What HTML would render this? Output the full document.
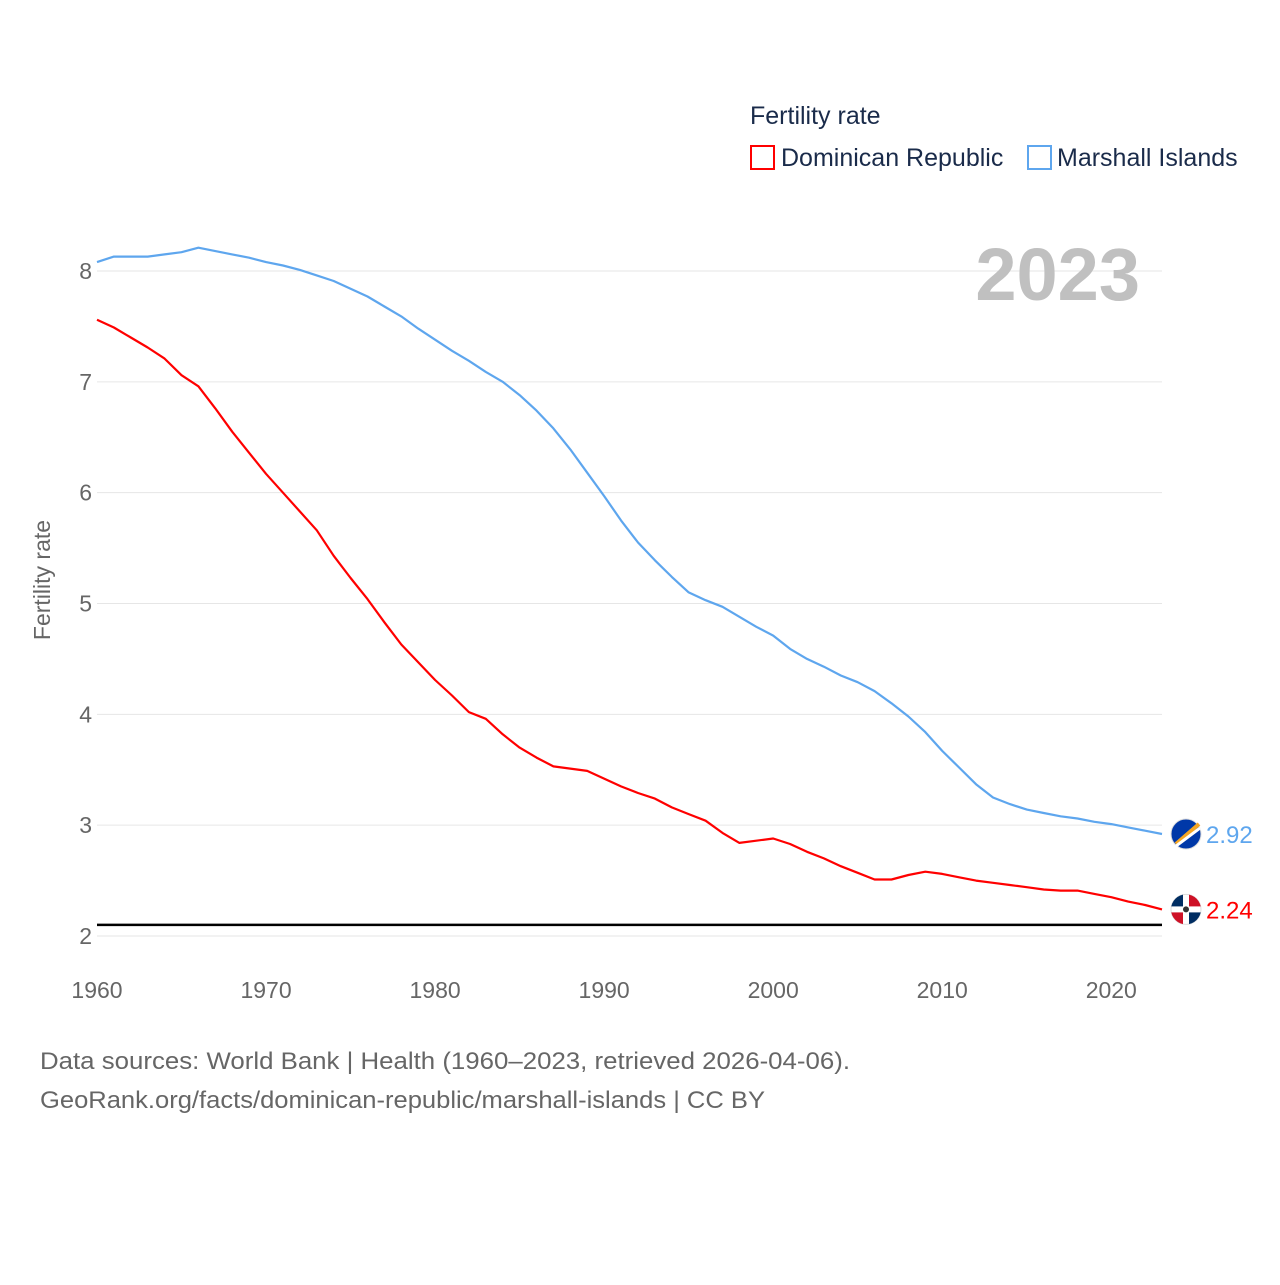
<!DOCTYPE html>
<html><head><meta charset="utf-8"><style>
body{margin:0;background:#fff;font-family:"Liberation Sans",sans-serif}
svg text{font-family:"Liberation Sans",sans-serif}
</style></head><body>
<svg id="chart" width="1280" height="1280" viewBox="0 0 1280 1280" xmlns="http://www.w3.org/2000/svg">
<rect width="1280" height="1280" fill="#fff"/>
<g id="grid"></g>
<g id="xt"></g>
<g id="lines"></g>
<text x="750" y="124" font-size="25" fill="#1a2b4a">Fertility rate</text>
<rect x="751" y="146" width="23" height="23" fill="none" stroke="#ff0000" stroke-width="2"/>
<text x="781" y="166" font-size="25" fill="#1a2b4a">Dominican Republic</text>
<rect x="1028" y="146" width="23" height="23" fill="none" stroke="#5ea6ee" stroke-width="2"/>
<text x="1057" y="166" font-size="25" fill="#1a2b4a">Marshall Islands</text>
<text x="1140" y="300" font-size="74" font-weight="bold" fill="#c0c0c0" text-anchor="end">2023</text>
<text transform="translate(50,580) rotate(-90)" font-size="23" fill="#666" text-anchor="middle">Fertility rate</text>
<text x="40" y="1069" font-size="24" fill="#666" textLength="810" lengthAdjust="spacingAndGlyphs">Data sources: World Bank | Health (1960–2023, retrieved 2026-04-06).</text>
<text x="40" y="1108" font-size="24" fill="#666" textLength="725" lengthAdjust="spacingAndGlyphs">GeoRank.org/facts/dominican-republic/marshall-islands | CC BY</text>
<defs><clipPath id="clipD"><circle id="clipDc" cx="1186" cy="0" r="15"/></clipPath></defs>
</svg>
<script>
const years=[];for(let y=1960;y<=2023;y++)years.push(y);
const dominican=[7.56,7.49,7.40,7.31,7.21,7.06,6.96,6.76,6.55,6.36,6.17,6.00,5.83,5.66,5.43,5.23,5.04,4.83,4.63,4.47,4.31,4.17,4.02,3.96,3.82,3.70,3.61,3.53,3.51,3.49,3.42,3.35,3.29,3.24,3.16,3.10,3.04,2.93,2.84,2.86,2.88,2.83,2.76,2.70,2.63,2.57,2.51,2.51,2.55,2.58,2.56,2.53,2.50,2.48,2.46,2.44,2.42,2.41,2.41,2.38,2.35,2.31,2.28,2.24];
const marshall=[8.08,8.13,8.13,8.13,8.15,8.17,8.21,8.18,8.15,8.12,8.08,8.05,8.01,7.96,7.91,7.84,7.77,7.68,7.59,7.48,7.38,7.28,7.19,7.09,7.00,6.88,6.74,6.58,6.39,6.18,5.97,5.75,5.55,5.39,5.24,5.10,5.03,4.97,4.88,4.79,4.71,4.59,4.50,4.43,4.35,4.29,4.21,4.10,3.98,3.84,3.67,3.52,3.37,3.25,3.19,3.14,3.11,3.08,3.06,3.03,3.01,2.98,2.95,2.92];
const yTicks=[2,3,4,5,6,7,8];
const xTicks=[1960,1970,1980,1990,2000,2010,2020];
const replacement=2.1;
const NS="http://www.w3.org/2000/svg";
const X=y=>97+(y-1960)*(1162-97)/63;
const Y=v=>936-(v-2)*(936-271)/6;
function mk(t,a,p){const e=document.createElementNS(NS,t);for(const k in a)e.setAttribute(k,a[k]);p.appendChild(e);return e;}
const grid=document.getElementById('grid'),xt=document.getElementById('xt'),lines=document.getElementById('lines');
yTicks.forEach(v=>{
 const l=mk('line',{x1:97,x2:1162,y1:Y(v),y2:Y(v),stroke:'#e6e6e6','stroke-width':1},grid);
 
 
 const t=mk('text',{x:92,y:Y(v)+8,'font-size':23,fill:'#666','text-anchor':'end'},grid);t.textContent=v;
 
 
});
xTicks.forEach(v=>{
 const t=mk('text',{x:X(v),y:998,'font-size':23,fill:'#666','text-anchor':'middle'},xt);t.textContent=v;
 
 
});
const rl=mk('line',{x1:97,x2:1162,y1:Y(replacement),y2:Y(replacement),stroke:'#000','stroke-width':2.5},lines);


function series(vals,color,name){
 const d=vals.map((v,i)=>(i?'L':'M')+X(years[i]).toFixed(1)+','+Y(v).toFixed(1)).join('');
 const p=mk('path',{d:d,fill:'none',stroke:color,'stroke-width':2.2,'stroke-linejoin':'round'},lines);
 
 
 const last=vals[vals.length-1],cy=Y(last);
 const c=mk('circle',{cx:1186,cy:cy,r:15,fill:name==='marshall'?'#0038a8':'#fff',stroke:'#ddd','stroke-width':1},lines);
 
 
 if(name==='dominican'){
  document.getElementById('clipDc').setAttribute('cy',cy);
  const g=mk('g',{'clip-path':'url(#clipD)'},lines);
  mk('rect',{x:1171,y:cy-15,width:12,height:12,fill:'#002d62'},g);
  mk('rect',{x:1189,y:cy+3,width:12,height:12,fill:'#002d62'},g);
  mk('rect',{x:1189,y:cy-15,width:12,height:12,fill:'#ce1126'},g);
  mk('rect',{x:1171,y:cy+3,width:12,height:12,fill:'#ce1126'},g);
  mk('circle',{cx:1186,cy:cy,r:3,fill:'#333'},g);
 } else {
  mk('line',{x1:1176,y1:cy+10,x2:1199,y2:cy-10,stroke:'#f5a623','stroke-width':4},lines);
  mk('line',{x1:1176,y1:cy+12,x2:1200,y2:cy-6,stroke:'#fff','stroke-width':3},lines);
 }
 const t=mk('text',{x:1206,y:cy+9,'font-size':24,fill:color},lines);t.textContent=last.toFixed(2);
 
 
}
series(marshall,'#5ea6ee','marshall');
series(dominican,'#ff0000','dominican');
</script>
</body></html>
